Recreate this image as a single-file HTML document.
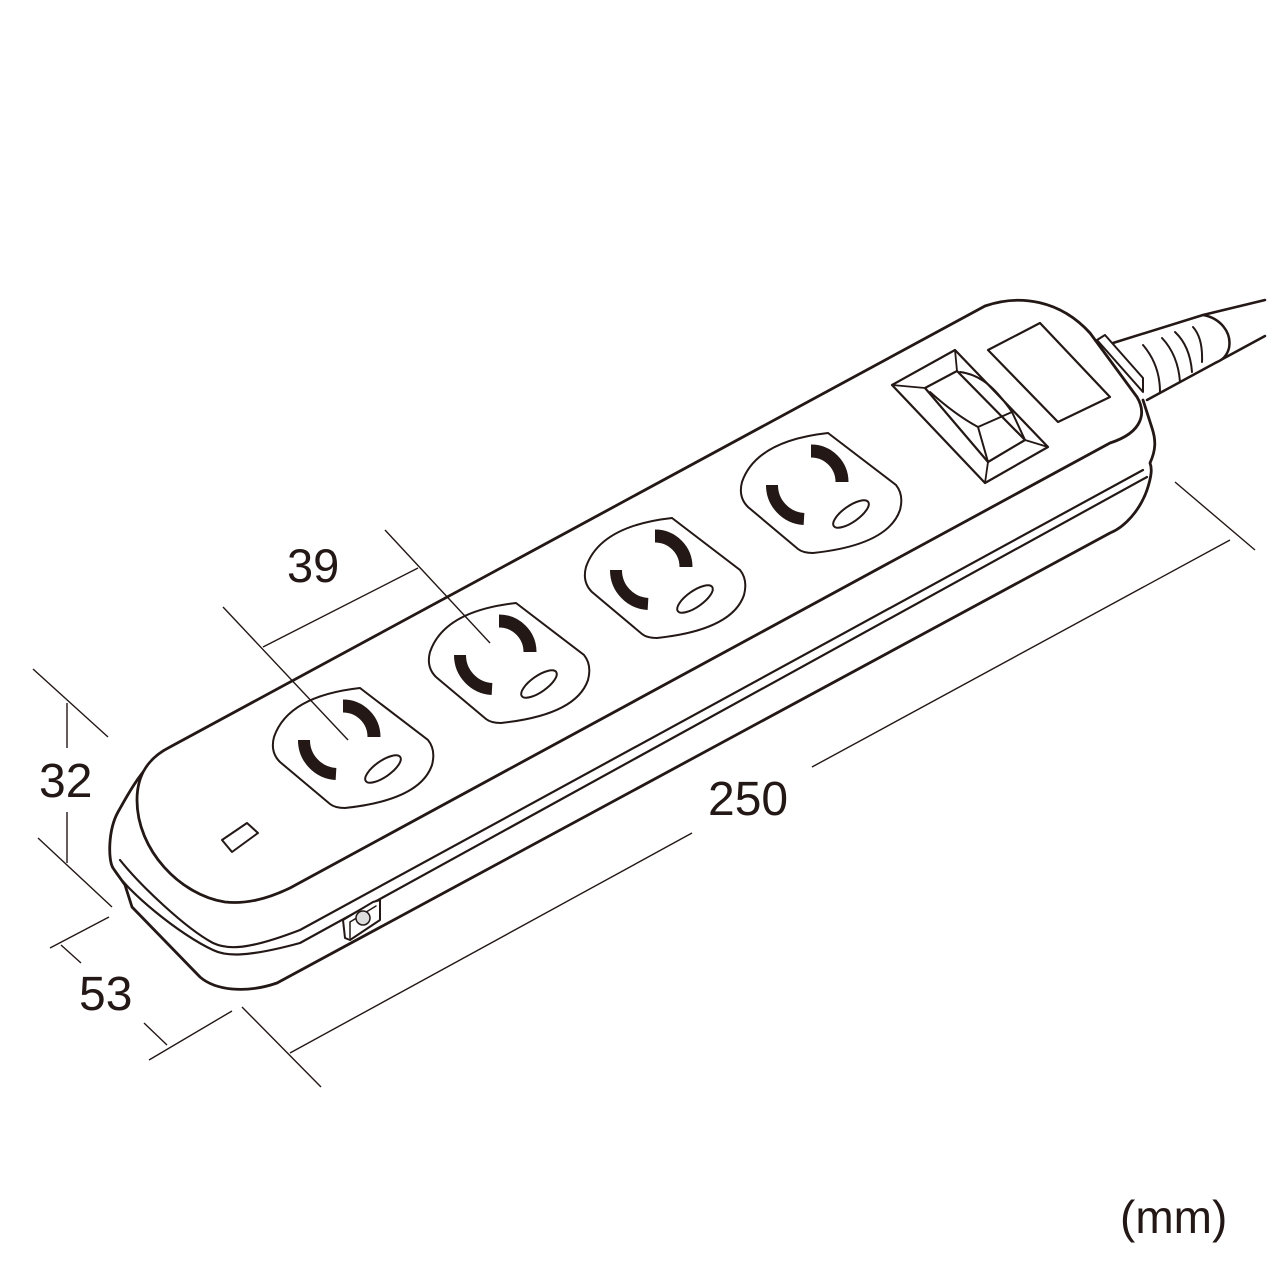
<!DOCTYPE html>
<html><head><meta charset="utf-8"><style>
html,body{margin:0;padding:0;background:#fff;}
svg{display:block;}
text{font-family:"Liberation Sans",sans-serif;fill:#231815;}
</style></head><body>
<svg width="1280" height="1280" viewBox="0 0 1280 1280" xmlns="http://www.w3.org/2000/svg">
<defs>
<g id="sock">
  <path d="M360,688 L428,740 Q436,750 432,765 Q420,800 345,808 Q335,808 330,804 L280,762 Q270,752 274,737 Q288,696 360,688 Z" fill="#fff" stroke="#231815" stroke-width="2"/>
  <path d="M343,706 A31,31 0 0 1 374,737" fill="none" stroke="#231815" stroke-width="13"/>
  <path d="M304,740 A34,34 0 0 0 336,774" fill="none" stroke="#231815" stroke-width="12"/>
  <ellipse cx="383" cy="769" rx="21" ry="8" transform="rotate(-35 383 769)" fill="#fff" stroke="#231815" stroke-width="2"/>
</g>
</defs>
<g fill="none" stroke="#231815" stroke-linejoin="round" stroke-linecap="round">
  <path d="M1203,315 L1265,300 M1217,362 L1265,336" stroke-width="2.5"/>
  <path d="M1113,343 L1203,315 C1220,318 1232,332 1229,348 C1227,356 1222,360 1217,362 L1147,400" fill="#fff" stroke-width="2.5"/>
  <path d="M1143,345 Q1160,365 1160,392 M1162,338 Q1178,355 1180,382 M1175,332 Q1190,346 1192,372 M1193,327 Q1203,338 1202,362" stroke-width="2"/>
  <path d="M1097,340 L1105,335 L1143,378 L1143,392 Z" fill="#fff" stroke-width="2"/>
  <path d="M150,764 C135,780 125,800 118,812 C108,830 108,860 113,868 L125,885 L132,907 L200,977 C215,990 245,994 277,983 L1110,533 C1125,527 1140,510 1147,490 C1152,475 1152,468 1150,463 C1156,450 1156,440 1152,428 L1143,400" fill="#fff" stroke-width="2.8"/>
  <path d="M113,868 C125,890 180,935 213,950 C225,956 245,958 300,943 L1147,477" stroke-width="2.2"/>
  <path d="M120,860 C140,885 185,928 213,943 C228,950 248,950 300,930 L1143,470" stroke-width="2.2"/>
  <path d="M137,800 C137,775 148,758 170,747 L985,306 C1020,294 1060,300 1090,333 L1137,397 C1146,412 1144,432 1110,443 L290,888 C265,900 245,904 225,902 C180,895 137,850 137,800 Z" fill="#fff" stroke-width="2.8"/>
  <path d="M222,840 L247,823 L258,833 L232,852 Z" stroke-width="2"/>
  <path d="M343,920 L373,902 L380,900 L380,920 L350,940 L345,938 Z" fill="#fff" stroke-width="2"/>
  <path d="M350,922 L350,938 M350,922 L376,906" stroke-width="1.5"/>
  <circle cx="363" cy="918" r="7" fill="#ddd" stroke="#231815" stroke-width="1.5"/>
  <path d="M892,385 L955,350 L1048,447 L985,483 Z" fill="#fff" stroke-width="2.2"/>
  <path d="M925,388 L957,371 L1025,440 L988,462 Z" stroke-width="2.2"/>
  <path d="M892,385 L925,388 M955,350 L957,371 M1048,447 L1025,440 M985,483 L988,462" stroke-width="1.8"/>
  <path d="M930,392 C950,410 965,420 978,427 L1012,412 C1000,395 985,375 960,372 M978,427 L988,462 M1012,412 L1025,440" stroke-width="2"/>
  <path d="M988,350 L1040,323 L1110,397 L1058,422 Z" stroke-width="2.2"/>
</g>
<use href="#sock"/>
<use href="#sock" transform="translate(156,-85)"/>
<use href="#sock" transform="translate(312,-170)"/>
<use href="#sock" transform="translate(468,-255)"/>
<g stroke="#231815" stroke-width="1.4" fill="none">
  <path d="M223,607 L348,740 M385,530 L490,643 M263,647 L418,568"/>
  <path d="M33,669 L108,737 M38,838 L112,907 M67,703 L67,748 M67,812 L67,863"/>
  <path d="M50,948 L109,917 M61,945 L81,963 M144,1023 L167,1045 M149,1060 L232,1011"/>
  <path d="M242,1007 L321,1087 M290,1053 L692,833 M812,767 L1230,540 M1175,482 L1255,550"/>
</g>
<text x="287" y="582" font-size="47">39</text>
<text x="39" y="797" font-size="48">32</text>
<text x="79" y="1010" font-size="48">53</text>
<text x="708" y="815" font-size="48">250</text>
<text x="1120" y="1233" font-size="46">(mm)</text>
</svg>
</body></html>
